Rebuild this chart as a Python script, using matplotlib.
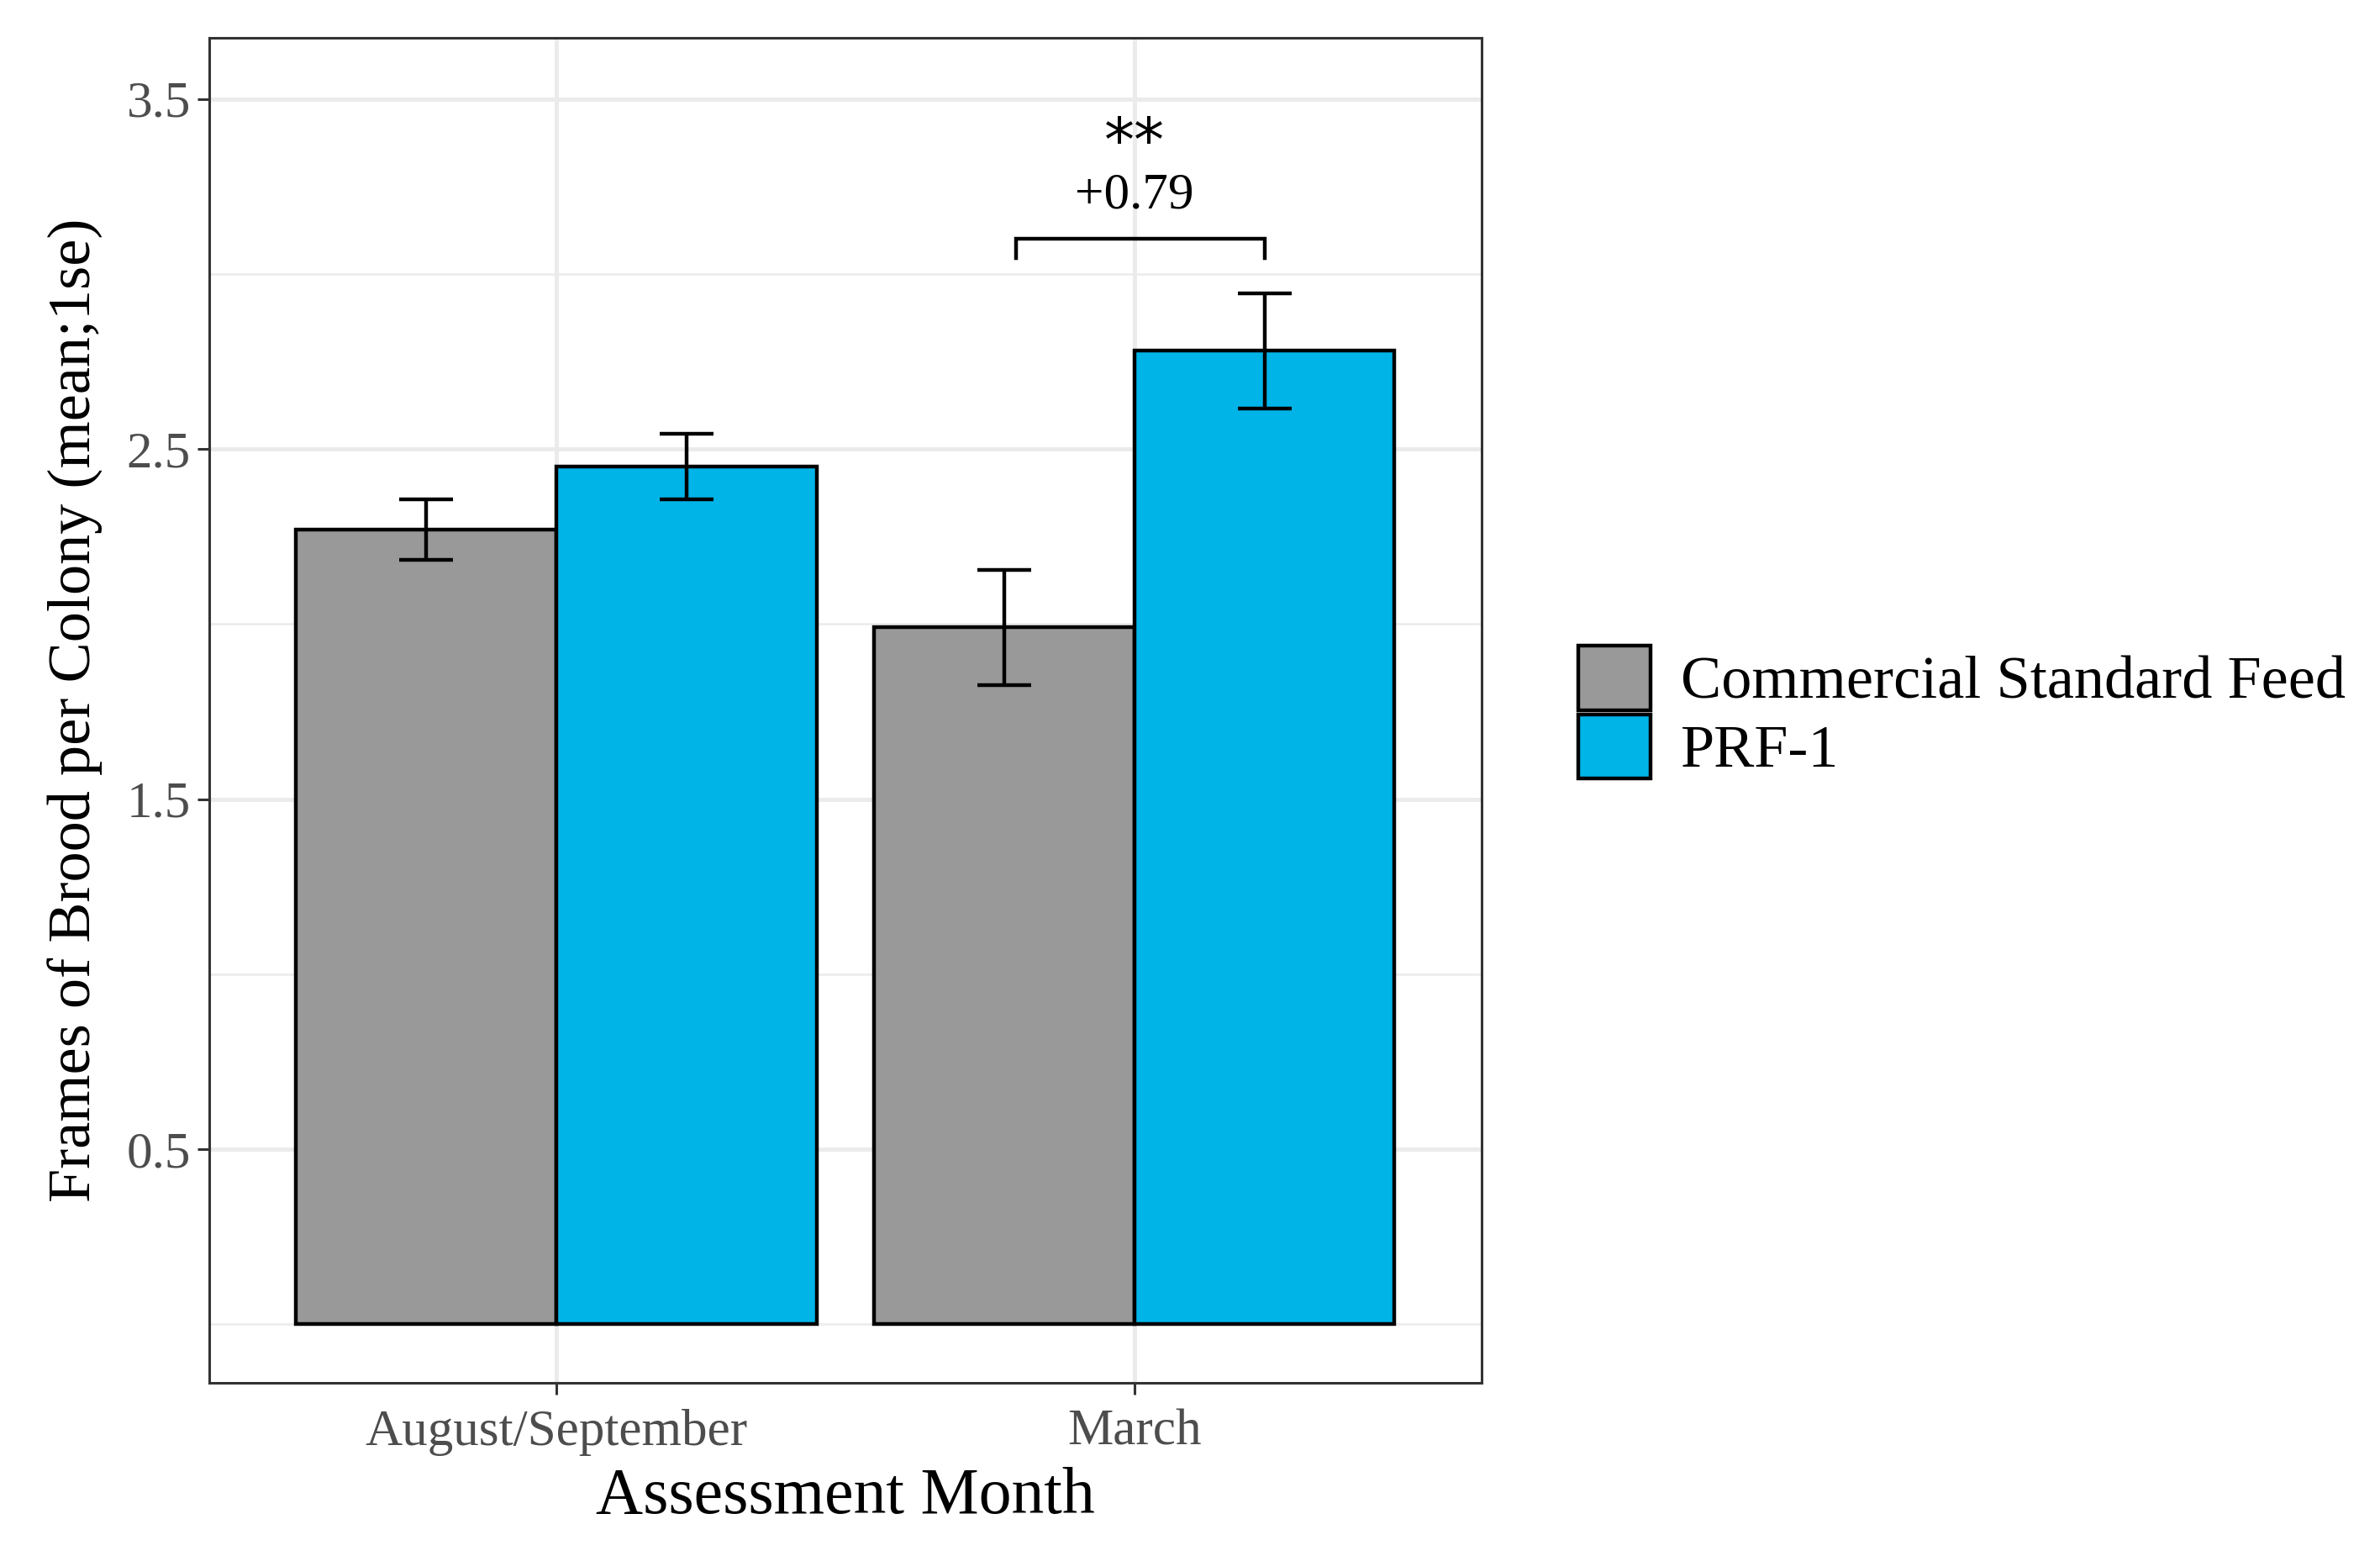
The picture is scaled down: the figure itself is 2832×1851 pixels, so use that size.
import numpy as np
import matplotlib
matplotlib.use("Agg")
import matplotlib.pyplot as plt
from matplotlib.patches import Patch

plt.rcParams['font.family'] = ['Liberation Serif', 'DejaVu Serif']

# Data
months = ["August/September", "March"]
groups = ["Commercial Standard Feed", "PRF-1"]
csf_mean = [2.27, 1.99]
csf_se = [0.087, 0.165]
prf_mean = [2.45, 2.78]
prf_se = [0.093, 0.165]
diff_label = "+0.79"
sig_label = "**"
colors = ["#999999", "#00B4E8"]

fig = plt.figure(figsize=(14.16, 9.255), dpi=200)
ax = fig.add_axes([0.088, 0.1112, 0.5344, 0.8644])

x = np.arange(1, len(months) + 1)
w = 0.45
means = [csf_mean, prf_mean]
ses = [csf_se, prf_se]
offsets = [-w / 2, w / 2]

for i in range(2):
    ax.bar(x + offsets[i], means[i], width=w, color=colors[i],
           edgecolor="black", linewidth=1.6, zorder=3)
for i in range(2):
    ax.errorbar(x + offsets[i], means[i], yerr=ses[i], fmt="none",
                ecolor="black", elinewidth=1.6, capsize=11.5, capthick=1.6,
                zorder=4)

# significance bracket for March
xl = x[1] + offsets[0] + 0.02
xr = x[1] + offsets[1]
top = max(csf_mean[1] + csf_se[1], prf_mean[1] + prf_se[1])
yb = top + 0.156
ax.plot([xl, xl, xr, xr], [yb - 0.056, yb, yb, yb - 0.056], color="black",
        linewidth=1.6, zorder=5, solid_joinstyle="miter")
ax.text(x[1], yb + 0.122, diff_label, ha="center", va="center", fontsize=22)
ax.text(x[1], yb + 0.27, sig_label, ha="center", va="center", fontsize=26,
        family="DejaVu Sans")

ax.set_xlim(0.4, 2.6)
ax.set_ylim(-0.168, 3.674)
ax.set_xticks(x)
ax.set_xticklabels(months)
ax.set_yticks([0.5, 1.5, 2.5, 3.5])
ax.set_yticks([0, 1, 2, 3], minor=True)

ax.grid(True, which="major", color="#EBEBEB", linewidth=1.8, zorder=0)
ax.grid(True, which="minor", axis="y", color="#EBEBEB", linewidth=0.9, zorder=0)
ax.set_axisbelow(True)

for s in ax.spines.values():
    s.set_color("#333333")
    s.set_linewidth(1.1)

ax.tick_params(axis="both", which="major", length=5, width=1.1, color="#333333",
               labelcolor="#4D4D4D", labelsize=22, pad=3)
ax.tick_params(axis="x", which="major", pad=6)
ax.tick_params(axis="y", which="minor", length=0)

ax.set_xlabel("Assessment Month", fontsize=28, labelpad=5)
ax.set_ylabel("Frames of Brood per Colony (mean;1se)", fontsize=26, labelpad=10)

handles = [Patch(facecolor=colors[i], edgecolor="black", linewidth=1.6)
           for i in range(2)]
fig.legend(handles, groups, loc="center left", bbox_to_anchor=(0.663, 0.542),
           frameon=False, fontsize=26, handlelength=1.2, handleheight=1.25,
           handletextpad=0.5, labelspacing=0.05, borderpad=0, borderaxespad=0)

fig.savefig("out.png", dpi=200, facecolor="white")
